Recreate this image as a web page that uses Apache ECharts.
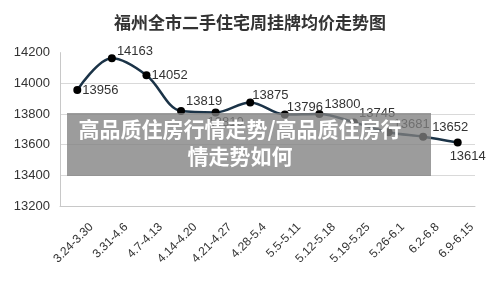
<!DOCTYPE html>
<html>
<head>
<meta charset="utf-8">
<script src="https://cdn.jsdelivr.net/npm/echarts@6/dist/echarts.min.js"></script>
<style>html,body{margin:0;padding:0;background:#fff}#c{width:500px;height:289px}</style>
</head>
<body>
<div id="c"></div>
<script>
var title = '福州全市二手住宅周挂牌均价走势图';
var categories = ['3.24-3.30','3.31-4.6','4.7-4.13','4.14-4.20','4.21-4.27','4.28-5.4','5.5-5.11','5.12-5.18','5.19-5.25','5.26-6.1','6.2-6.8','6.9-6.15'];
var prices = [13956, 14163, 14052, 13819, 13810, 13875, 13796, 13800, 13745, 13681, 13652, 13614];
var yTicks = [13200, 13400, 13600, 13800, 14000, 14200];
var overlayLines = ['高品质住房行情走势/高品质住房行', '情走势如何'];

var labelPlace = [
  {position:'right', offset:[-2,0]},
  {position:'right', offset:[-2,-7]},
  {position:'right', offset:[-2,0]},
  {position:'right', offset:[-2,-10]},
  {position:'bottom', offset:[10,-4]},
  {position:'right', offset:[-5,-7]},
  {position:'right', offset:[-5,-7]},
  {position:'right', offset:[-2,-10]},
  {position:'right', offset:[-2,-9]},
  {position:'right', offset:[-2,-8]},
  {position:'right', offset:[2,-9]},
  {position:'bottom', offset:[10,0]}
];

var chart = echarts.init(document.getElementById('c'), null, {renderer:'canvas'});
var ff = '"Liberation Sans", Arial, sans-serif';
var option = {
  animation: false,
  title: {
    text: title, left: 'center', top: 9,
    textStyle: {fontSize: 17, fontWeight: 'bold', color: '#333', fontFamily: '"Noto Sans CJK SC", sans-serif'}
  },
  grid: {left: 60, right: 25, top: 52.6, bottom: 83},
  xAxis: {
    type: 'category', data: categories, boundaryGap: true,
    axisLine: {lineStyle: {color: '#c8c8c8'}},
    axisTick: {inside: true, length: 4, lineStyle: {color: '#c8c8c8'}},
    axisLabel: {rotate: 45, interval: 0, fontSize: 12, color: '#333', fontFamily: ff, margin: 5, verticalAlign: 'top', padding: [14, 0, 0, 0]}
  },
  yAxis: {
    type: 'value', min: yTicks[0], max: yTicks[yTicks.length-1], interval: 200,
    axisLine: {show: true, lineStyle: {color: '#c8c8c8'}},
    axisTick: {show: false},
    axisLabel: {fontSize: 13, color: '#333', fontFamily: ff, margin: 10, formatter: function(v){ return String(v); }},
    splitLine: {lineStyle: {color: ['#d9d9d9','#d9d9d9','#d9d9d9','#d9d9d9','#d9d9d9','rgba(0,0,0,0)']}}
  },
  series: [{
    type: 'line', smooth: 0.35,
    data: prices.map(function(v, i){
      return {value: v, label: {position: labelPlace[i].position, offset: labelPlace[i].offset}};
    }),
    symbol: 'circle', symbolSize: 8,
    lineStyle: {color: '#1b3347', width: 2.5},
    itemStyle: {color: '#000'},
    label: {show: true, fontSize: 13, color: '#333', fontFamily: ff, distance: 3}
  }],
  graphic: [
    {type: 'rect', z: 100, shape: {x: 67, y: 113, width: 364, height: 63}, style: {fill: 'rgba(128,128,128,0.78)'}},
    {type: 'text', z: 101, style: {text: overlayLines[0], x: 240, y: 129, textAlign: 'center', textVerticalAlign: 'middle', fill: '#fff', font: 'bold 21px "Noto Sans CJK SC", sans-serif'}},
    {type: 'text', z: 101, style: {text: overlayLines[1], x: 240, y: 156, textAlign: 'center', textVerticalAlign: 'middle', fill: '#fff', font: 'bold 21px "Noto Sans CJK SC", sans-serif'}}
  ]
};
chart.setOption(option);
</script>
</body>
</html>
